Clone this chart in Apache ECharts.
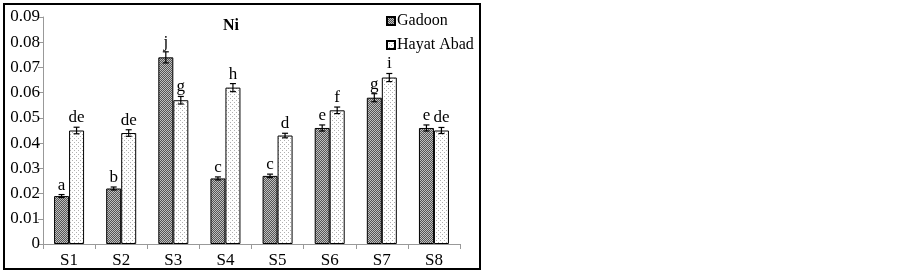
<!DOCTYPE html>
<html>
<head>
<meta charset="utf-8">
<script src="https://cdn.jsdelivr.net/npm/echarts@6/dist/echarts.min.js"></script>
<style>
  html, body { margin: 0; padding: 0; background: #fff; }
  #chart { width: 902px; height: 272px; }
</style>
</head>
<body>
<div id="chart"></div>
<script>
  // 数据
  var categories = ['S1', 'S2', 'S3', 'S4', 'S5', 'S6', 'S7', 'S8']
  var gadoon = [0.019, 0.022, 0.074, 0.026, 0.027, 0.046, 0.058, 0.046]
  var hayat = [0.045, 0.044, 0.057, 0.062, 0.043, 0.053, 0.066, 0.045]
  var gadoonErr = [0.0006, 0.0006, 0.0022, 0.0006, 0.0007, 0.0012, 0.0016, 0.0012]
  var hayatErr = [0.0013, 0.0013, 0.0015, 0.0016, 0.0009, 0.0013, 0.0016, 0.0012]
  var gadoonLetters = ['a', 'b', 'j', 'c', 'c', 'e', 'g', 'e']
  var hayatLetters = ['de', 'de', 'g', 'h', 'd', 'f', 'i', 'de']

  var font = '"Liberation Serif", "Times New Roman", serif'
  var barW = 15

  function makePattern(bg, dot, step) {
    var c = document.createElement('canvas')
    c.width = step; c.height = step
    var ctx = c.getContext('2d')
    ctx.fillStyle = bg
    ctx.fillRect(0, 0, step, step)
    ctx.fillStyle = dot
    ctx.fillRect(0, 0, 1, 1)
    ctx.fillRect(Math.floor(step / 2), Math.floor(step / 2), 1, 1)
    return c
  }
  var darkPat = { image: makePattern('#555555', '#c0c0c0', 2), repeat: 'repeat' }
  var lightPat = { image: makePattern('#ffffff', '#b0b0b0', 4), repeat: 'repeat' }

  function errSeries(vals, errs, letters, shift) {
    return {
      type: 'custom',
      silent: true,
      z: 5,
      data: vals.map(function (v, i) { return [i, v, errs[i]] }),
      renderItem: function (params, api) {
        var i = api.value(0)
        var v = api.value(1)
        var e = api.value(2)
        var hi = api.coord([i, v + e])
        var lo = api.coord([i, v - e])
        var x = hi[0] + shift
        var cap = 3
        return {
          type: 'group',
          children: [
            { type: 'line', shape: { x1: x, y1: hi[1], x2: x, y2: lo[1] }, style: { stroke: '#000', lineWidth: 1.2 } },
            { type: 'line', shape: { x1: x - cap, y1: hi[1], x2: x + cap, y2: hi[1] }, style: { stroke: '#000', lineWidth: 1.2 } },
            { type: 'line', shape: { x1: x - cap, y1: lo[1], x2: x + cap, y2: lo[1] }, style: { stroke: '#000', lineWidth: 1.2 } },
            { type: 'text', x: x, y: hi[1] - 1, style: { text: letters[i], font: '17px ' + font, fill: '#000', align: 'center', verticalAlign: 'bottom' } }
          ]
        }
      }
    }
  }

  var myChart = echarts.init(document.getElementById('chart'))
  var option = {
    animation: false,
    backgroundColor: '#fff',
    title: {
      text: 'Ni',
      left: 218,
      top: 13,
      textStyle: { fontFamily: font, fontSize: 16, fontWeight: 'bold', color: '#000' }
    },
    legend: {
      orient: 'vertical',
      left: 381,
      top: 8,
      icon: 'rect',
      itemWidth: 8,
      itemHeight: 8,
      itemGap: 8,
      data: ['Gadoon', 'Hayat Abad'],
      textStyle: { fontFamily: font, fontSize: 16, color: '#000', padding: [0, 0, 0, -3] }
    },
    grid: { left: 43, right: 442, top: 17, bottom: 28 },
    xAxis: {
      type: 'category',
      data: categories,
      axisLine: { lineStyle: { color: '#999' } },
      axisTick: { show: true, length: 5, lineStyle: { color: '#999' } },
      axisLabel: { fontFamily: font, fontSize: 17, color: '#000', margin: 8 }
    },
    yAxis: {
      type: 'value',
      min: 0,
      max: 0.09,
      interval: 0.01,
      axisLine: { show: true, lineStyle: { color: '#999' } },
      axisTick: { show: true, length: 5, lineStyle: { color: '#999' } },
      splitLine: { show: false },
      axisLabel: {
        fontFamily: font, fontSize: 17, color: '#000', margin: 3,
        formatter: function (v) { return v === 0 ? '0' : v.toFixed(2) }
      }
    },
    series: [{
      name: 'Gadoon',
      type: 'bar',
      barWidth: barW,
      barGap: '0%',
      data: gadoon,
      itemStyle: { color: darkPat, borderColor: '#000', borderWidth: 1 }
    }, {
      name: 'Hayat Abad',
      type: 'bar',
      barWidth: barW,
      data: hayat,
      itemStyle: { color: lightPat, borderColor: '#000', borderWidth: 1 }
    },
    errSeries(gadoon, gadoonErr, gadoonLetters, -barW / 2),
    errSeries(hayat, hayatErr, hayatLetters, barW / 2)
    ],
    graphic: [{
      type: 'rect',
      shape: { x: 4, y: 4, width: 476, height: 265 },
      style: { fill: null, stroke: '#000', lineWidth: 2 },
      silent: true
    }]
  }
  myChart.setOption(option)
</script>
</body>
</html>
